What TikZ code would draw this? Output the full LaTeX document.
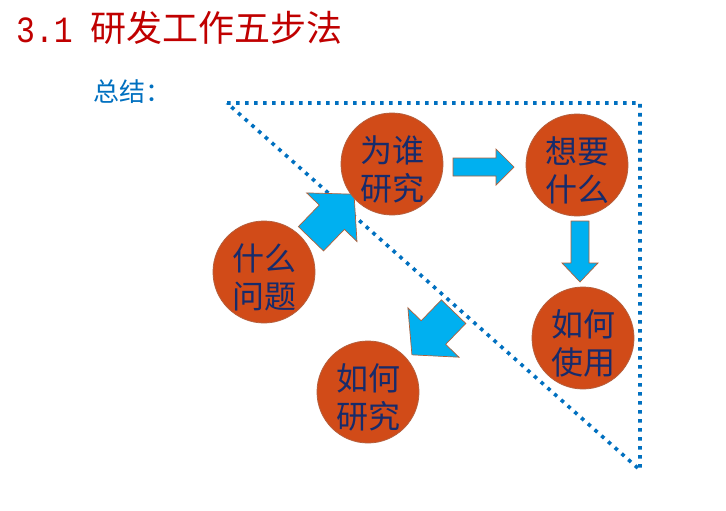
\documentclass[tikz,border=0pt]{standalone}
\usepackage{fontspec}
\newfontfamily\cjk{Noto Sans CJK SC}
\newfontfamily\monofnt[FakeStretch=0.85]{Liberation Mono}
\definecolor{titlered}{HTML}{C00000}
\definecolor{sumblue}{HTML}{0070C0}
\definecolor{dotblue}{HTML}{0070C0}
\definecolor{discfill}{HTML}{D14B18}
\definecolor{discline}{HTML}{B5603E}
\definecolor{disctext}{HTML}{172B6B}
\definecolor{arrowfill}{HTML}{00B0F0}
\definecolor{arrowline}{HTML}{B0603A}
\newcommand\blockarrow[7]{%
  % #1 name, #2 centre, #3 angle, #4 length, #5 shaft half width, #6 head half width, #7 head length
  \begin{scope}[shift={#2}, rotate=#3]
    \draw[arrowsty] (-#4/2,-#5) -- (#4/2-#7,-#5) -- (#4/2-#7,-#6) -- (#4/2,0) coordinate (#1)
      -- (#4/2-#7,#6) -- (#4/2-#7,#5) -- (-#4/2,#5) -- cycle;
  \end{scope}}
\begin{document}
\begin{tikzpicture}[x=1pt,y=-1pt,
  stage/.style={circle, fill=discfill, draw=discline, line width=0.8pt,
    minimum size=102pt, inner sep=0pt, align=center, text=disctext,
    font=\cjk\fontsize{32}{38}\selectfont},
  arrowsty/.style={fill=arrowfill, draw=arrowline, line width=0.7pt, line join=miter},
  dotline/.style={draw=dotblue, line width=3.6pt, dash pattern=on 3.6pt off 5.4pt}
]
\useasboundingbox (0,0) rectangle (726,511);
\fill[white] (0,0) rectangle (726,511);

% title and subtitle
\node[anchor=base west, inner sep=0pt, text=titlered, font=\monofnt\fontsize{37}{40}\selectfont] (num) at (16,43) {3.1};
\node[anchor=base west, inner sep=0pt, text=titlered, font=\cjk\fontsize{36}{40}\selectfont] (title) at (90,42)
  {研发工作五步法};
\node[anchor=base west, inner sep=0pt, text=sumblue, font=\cjk\fontsize{26}{30}\selectfont] (sum) at (93,101) {总结：};

% dotted triangle
\coordinate (t1) at (227,103);
\coordinate (t2) at (640,103);
\coordinate (t3) at (640,470);
\draw[dotline] (t1) -- (t2) -- (t3) -- cycle;

% block arrows
\blockarrow{a1}{(483.5,167)}{0}{61}{9}{18}{18}
\blockarrow{a2}{(580,251.5)}{-90}{61}{9}{18}{19}
\blockarrow{a3}{(332.5,216.5)}{46}{62}{17.5}{35}{32}
\blockarrow{a4}{(432.75,333.25)}{226}{60}{17}{35.5}{31}

% stages
\node[stage] (q1) at (264,272) {\rule{0pt}{38pt}什么\\问题};
\node[stage] (q2) at (392,164) {\rule{0pt}{38pt}为谁\\研究};
\node[stage] (q3) at (577,165) {\rule{0pt}{38pt}想要\\什么};
\node[stage] (q4) at (583,338) {\rule{0pt}{38pt}如何\\使用};
\node[stage] (q5) at (368,392) {\rule{0pt}{38pt}如何\\研究};
\end{tikzpicture}
\end{document}
